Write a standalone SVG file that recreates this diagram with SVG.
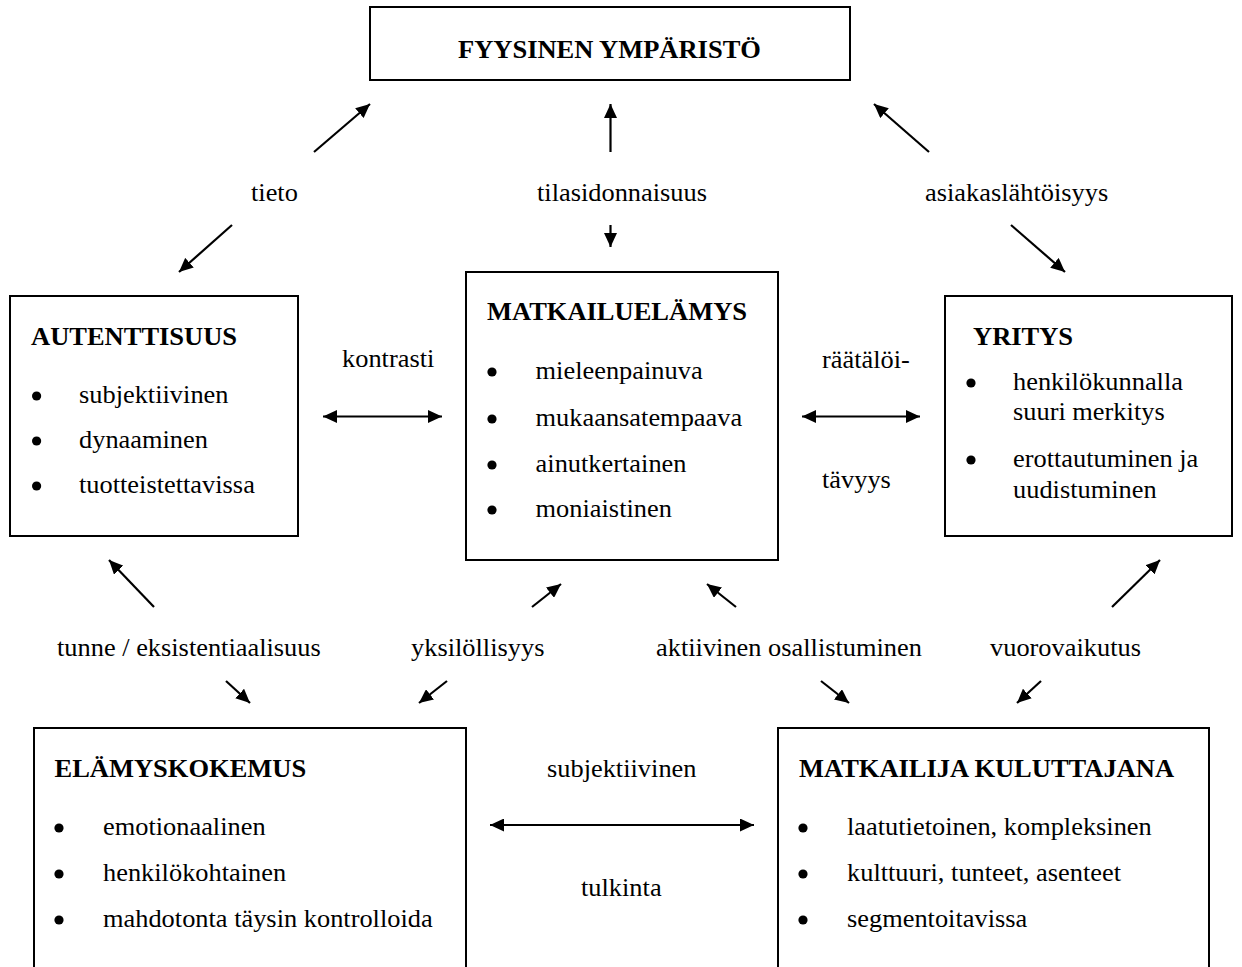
<svg xmlns="http://www.w3.org/2000/svg" width="1242" height="967" viewBox="0 0 1242 967">
<style>
.box{fill:#fff;stroke:#000;stroke-width:2}
.t{font-family:"Liberation Serif","Times New Roman",serif;font-size:25.5px;fill:#000}
.b{font-family:"Liberation Serif","Times New Roman",serif;font-size:25px;font-weight:bold;fill:#000}
.c{stroke:#000;stroke-width:2.2;fill:none}
.a{marker-end:url(#ah)}
.d{marker-start:url(#ah);marker-end:url(#ah)}
.dot{fill:#000}
</style>
<defs>
<marker id="ah" markerUnits="userSpaceOnUse" markerWidth="15" markerHeight="13" refX="14" refY="6.5" orient="auto-start-reverse" viewBox="0 0 15 13">
<path d="M0,0 L14,6.5 L0,13 z" fill="#000"/>
</marker>
</defs>
<rect width="1242" height="967" fill="#fff"/>

<g id="fyysinen">
<rect class="box" x="370" y="7" width="480" height="73"/>
<text class="b" transform="translate(458 58) scale(1.06 1)">FYYSINEN YMPÄRISTÖ</text>
</g>

<g id="autenttisuus">
<rect class="box" x="10" y="296" width="288" height="240"/>
<text class="b" transform="translate(31 345) scale(1.06 1)">AUTENTTISUUS</text>
<ellipse class="dot" cx="36.6" cy="396" rx="4.6" ry="4.5"/>
<ellipse class="dot" cx="36.6" cy="441" rx="4.6" ry="4.5"/>
<ellipse class="dot" cx="36.6" cy="486" rx="4.6" ry="4.5"/>
<text class="t" transform="translate(79 403) scale(1.035 1)">subjektiivinen</text>
<text class="t" transform="translate(79 448) scale(1.035 1)">dynaaminen</text>
<text class="t" transform="translate(79 493) scale(1.035 1)">tuotteistettavissa</text>
</g>

<g id="matkailuelamys">
<rect class="box" x="466" y="272" width="312" height="288"/>
<text class="b" transform="translate(487 320) scale(1.06 1)">MATKAILUELÄMYS</text>
<ellipse class="dot" cx="492" cy="372" rx="4.6" ry="4.5"/>
<ellipse class="dot" cx="492" cy="419" rx="4.6" ry="4.5"/>
<ellipse class="dot" cx="492" cy="465" rx="4.6" ry="4.5"/>
<ellipse class="dot" cx="492" cy="510" rx="4.6" ry="4.5"/>
<text class="t" transform="translate(535.6 379) scale(1.035 1)">mieleenpainuva</text>
<text class="t" transform="translate(535.6 426) scale(1.035 1)">mukaansatempaava</text>
<text class="t" transform="translate(535.6 472) scale(1.035 1)">ainutkertainen</text>
<text class="t" transform="translate(535.6 517) scale(1.035 1)">moniaistinen</text>
</g>

<g id="yritys">
<rect class="box" x="945" y="296" width="287" height="240"/>
<text class="b" transform="translate(973 345) scale(1.06 1)">YRITYS</text>
<ellipse class="dot" cx="971" cy="383" rx="4.6" ry="4.5"/>
<ellipse class="dot" cx="971" cy="460" rx="4.6" ry="4.5"/>
<text class="t" transform="translate(1013 390) scale(1.035 1)">henkilökunnalla</text>
<text class="t" transform="translate(1013 420) scale(1.035 1)">suuri merkitys</text>
<text class="t" transform="translate(1013 467) scale(1.035 1)">erottautuminen ja</text>
<text class="t" transform="translate(1013 498) scale(1.035 1)">uudistuminen</text>
</g>

<g id="elamyskokemus">
<rect class="box" x="34" y="728" width="432" height="260"/>
<text class="b" transform="translate(54.5 777) scale(1.06 1)">ELÄMYSKOKEMUS</text>
<ellipse class="dot" cx="59" cy="828" rx="4.6" ry="4.5"/>
<ellipse class="dot" cx="59" cy="874" rx="4.6" ry="4.5"/>
<ellipse class="dot" cx="59" cy="920" rx="4.6" ry="4.5"/>
<text class="t" transform="translate(103 835) scale(1.035 1)">emotionaalinen</text>
<text class="t" transform="translate(103 881) scale(1.035 1)">henkilökohtainen</text>
<text class="t" transform="translate(103 927) scale(1.035 1)">mahdotonta täysin kontrolloida</text>
</g>

<g id="matkailija">
<rect class="box" x="778" y="728" width="431" height="260"/>
<text class="b" transform="translate(799 777) scale(1.06 1)">MATKAILIJA KULUTTAJANA</text>
<ellipse class="dot" cx="803" cy="828" rx="4.6" ry="4.5"/>
<ellipse class="dot" cx="803" cy="874" rx="4.6" ry="4.5"/>
<ellipse class="dot" cx="803" cy="920" rx="4.6" ry="4.5"/>
<text class="t" transform="translate(847 835) scale(1.035 1)">laatutietoinen, kompleksinen</text>
<text class="t" transform="translate(847 881) scale(1.035 1)">kulttuuri, tunteet, asenteet</text>
<text class="t" transform="translate(847 927) scale(1.035 1)">segmentoitavissa</text>
</g>

<g id="connectors">
<line class="c a" x1="314" y1="152" x2="370" y2="104"/>
<line class="c a" x1="232" y1="225" x2="179" y2="272"/>
<line class="c a" x1="610.5" y1="152" x2="610.5" y2="104"/>
<line class="c a" x1="610.5" y1="225" x2="610.5" y2="247"/>
<line class="c a" x1="929" y1="152" x2="874" y2="104"/>
<line class="c a" x1="1011" y1="225" x2="1065" y2="272"/>
<line class="c d" x1="323" y1="416.5" x2="442" y2="416.5"/>
<line class="c d" x1="802" y1="416.5" x2="920" y2="416.5"/>
<line class="c a" x1="154" y1="607" x2="109" y2="560"/>
<line class="c a" x1="532" y1="607" x2="561" y2="584"/>
<line class="c a" x1="736" y1="607" x2="707" y2="584"/>
<line class="c a" x1="1112" y1="607" x2="1160" y2="560"/>
<line class="c a" x1="226" y1="681" x2="250" y2="703"/>
<line class="c a" x1="447" y1="681" x2="419" y2="703"/>
<line class="c a" x1="821" y1="681" x2="849" y2="703"/>
<line class="c a" x1="1041" y1="681" x2="1017" y2="703"/>
<line class="c d" x1="490" y1="825" x2="754" y2="825"/>
</g>

<g id="labels">
<text class="t" transform="translate(251 201) scale(1.035 1)">tieto</text>
<text class="t" transform="translate(537 201) scale(1.035 1)">tilasidonnaisuus</text>
<text class="t" transform="translate(925 201) scale(1.035 1)">asiakaslähtöisyys</text>
<text class="t" transform="translate(342 367) scale(1.035 1)">kontrasti</text>
<text class="t" transform="translate(822 368) scale(1.035 1)">räätälöi-</text>
<text class="t" transform="translate(822 488) scale(1.035 1)">tävyys</text>
<text class="t" transform="translate(57 656) scale(1.035 1)">tunne / eksistentiaalisuus</text>
<text class="t" transform="translate(411 656) scale(1.035 1)">yksilöllisyys</text>
<text class="t" transform="translate(656 656) scale(1.035 1)">aktiivinen osallistuminen</text>
<text class="t" transform="translate(990 656) scale(1.035 1)">vuorovaikutus</text>
<text class="t" transform="translate(547 777) scale(1.035 1)">subjektiivinen</text>
<text class="t" transform="translate(581 896) scale(1.035 1)">tulkinta</text>
</g>
</svg>
